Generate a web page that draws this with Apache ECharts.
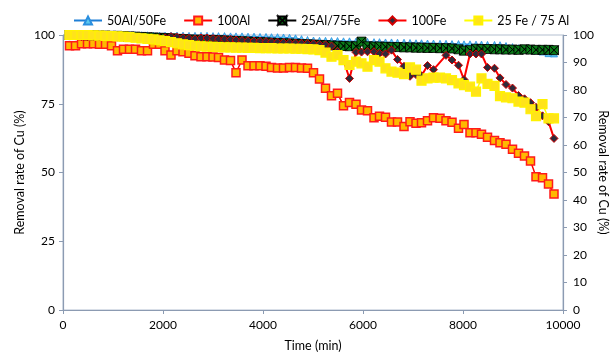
<!DOCTYPE html>
<html>
<head>
<meta charset="utf-8">
<title>Removal rate of Cu</title>
<script src="https://cdn.jsdelivr.net/npm/echarts@6/dist/echarts.min.js"></script>
<style>
  html, body { margin: 0; padding: 0; background: #fff; }
  #chart { width: 611px; height: 356px; }
</style>
</head>
<body>
<div id="chart"></div>
<script>
// time (min) of each sample
var times = [130, 250, 370, 490, 610, 730, 850, 970, 1090, 1210, 1330, 1450, 1570, 1690, 1810, 1930,
  2040, 2160, 2280, 2400, 2520, 2640, 2760, 2880, 3000, 3110, 3230, 3350, 3460, 3580, 3700, 3820,
  3940, 4060, 4170, 4290, 4410, 4530, 4650, 4770, 4890, 5010, 5130, 5250, 5370, 5490, 5610, 5730,
  5860, 5970, 6090, 6220, 6330, 6450, 6570, 6690, 6820, 6940, 7060, 7170, 7290, 7410, 7540, 7660,
  7780, 7910, 8020, 8140, 8260, 8370, 8490, 8630, 8740, 8860, 8990, 9110, 9230, 9350, 9460, 9590,
  9710, 9820];

var seriesNames = ['50Al/50Fe', '100Al', '25Al/75Fe', '100Fe', '25 Fe / 75 Al'];

var al50fe50 = [100, 100, 100, 100, 100, 100, 100, 100, 100, 99.9, 99.9, 99.9, 99.9, 99.9, 99.8, 99.8,
  99.8, 99.8, 99.8, 99.8, 99.7, 99.7, 99.7, 99.7, 99.6, 99.6, 99.6, 99.5, 99.5, 99.5, 99.4, 99.4,
  99.3, 99.3, 99.2, 99.2, 99.1, 99.0, 98.8, 98.5, 98.2, 98.0, 97.9, 97.9, 97.8, 97.8, 97.7, 97.7,
  97.6, 97.5, 97.5, 97.4, 97.4, 97.3, 97.3, 97.2, 97.2, 97.1, 97.0, 97.0, 96.9, 96.9, 96.8, 96.8,
  96.7, 96.7, 96.6, 96.6, 96.5, 96.5, 96.4, 96.4, 96.3, 96.0, 95.6, 95.2, 95.0, 94.7, 94.4, 94.0,
  93.4, 93.3];

var al100 = [96.1, 96.1, 96.8, 96.8, 96.8, 96.6, 96.6, 96.1, 94.3, 94.8, 94.8, 94.8, 94.3, 94.3, 96.6, 96.6,
  94.3, 92.7, 94.3, 93.9, 93.4, 92.5, 92.1, 92.1, 92.0, 91.8, 90.9, 90.7, 86.3, 90.9, 88.8, 88.8,
  88.8, 88.6, 88.2, 88.0, 88.0, 88.2, 88.2, 88.0, 87.9, 86.3, 84.0, 80.6, 77.9, 78.8, 74.3, 75.5,
  74.8, 72.7, 72.5, 69.9, 70.5, 70.1, 68.4, 68.4, 66.7, 68.5, 67.9, 68.1, 68.8, 69.9, 69.7, 68.8,
  68.3, 66.1, 67.5, 64.5, 64.5, 63.9, 62.8, 61.6, 60.8, 60.3, 58.5, 57.0, 56.0, 54.2, 48.5, 48.1,
  45.8, 42.2];

var al25fe75 = [100, 100, 100, 99.9, 99.9, 99.8, 99.8, 99.7, 99.7, 99.6, 99.5, 99.4, 99.3, 99.2, 99.1, 99.0,
  98.9, 98.8, 98.6, 98.5, 98.4, 98.3, 98.3, 98.2, 98.2, 98.1, 98.0, 97.9, 97.8, 97.7, 97.6, 97.5,
  97.4, 97.3, 97.2, 97.1, 97.0, 96.9, 96.8, 96.7, 96.6, 96.5, 96.4, 96.3, 96.2, 96.1, 96.0, 95.9,
  95.9, 97.6, 95.9, 95.8, 95.8, 95.7, 95.6, 95.6, 95.5, 95.5, 95.4, 95.4, 95.3, 95.3, 95.2, 95.2,
  95.1, 94.8, 94.3, 94.5, 95.0, 94.9, 94.9, 94.8, 94.8, 94.7, 94.7, 94.6, 94.8, 94.7, 94.6, 94.6,
  94.6, 94.5];

var fe100 = [99.6, 99.6, 99.5, 99.5, 99.4, 99.4, 99.3, 99.3, 99.2, 99.1, 99.1, 99.0, 99.0, 98.9, 98.9, 98.8,
  99.0, 99.4, 99.2, 99.0, 98.8, 98.6, 98.9, 98.9, 98.7, 98.5, 98.5, 98.4, 98.2, 98.0, 97.9, 97.8,
  97.7, 97.6, 97.5, 97.4, 97.3, 97.2, 97.1, 97.0, 96.9, 96.8, 96.6, 96.4, 96.0, 94.0, 90.8, 84.2,
  93.7, 93.8, 93.9, 93.9, 93.3, 93.1, 94.5, 91.1, 88.6, 85.0, 85.6, 85.2, 88.9, 87.4, null, 92.6,
  90.9, 89.0, 83.8, 93.1, 93.1, 93.1, 88.2, 87.9, 84.4, 82.0, 80.7, 78.0, 76.8, 75.4, 73.7, 70.6,
  68.5, 62.4];

var fe25al75 = [100, 100, 100, 100, 99.9, 99.8, 99.7, 99.6, 99.5, 99.4, 99.2, 99.0, 98.8, 98.6, 98.4, 98.1,
  97.8, 97.4, 97.0, 96.6, 96.3, 96.1, 95.9, 95.8, 95.7, 95.6, 95.5, 95.5, 95.4, 95.4, 95.3, 95.3,
  95.2, 95.2, 95.2, 95.1, 95.1, 95.1, 95.0, 95.0, 94.9, 94.8, 94.5, 93.6, 92.1, 92.7, 90.9, 89.1,
  90.3, 89.7, 88.5, 90.9, 90.3, 87.9, 86.7, 86.3, 85.8, 88.2, 87.4, 83.4, 84.2, 84.5, 84.5, 84.2,
  83.6, 82.4, 81.8, 81.2, 79.4, 84.2, 82.2, 81.5, 77.8, 77.3, 77.0, 75.8, 75.4, 73.0, 70.5, 74.9,
  69.7, 69.7];

var leftTicks = [0, 25, 50, 75, 100];
var rightTicks = [0, 10, 20, 30, 40, 50, 60, 70, 80, 90, 100];

function pairs(values) {
  return times.map(function (t, i) { return [t, values[i]]; });
}

var FONT = 'Lato';
var AXIS_COLOR = '#8C9BB2';
var xCross = 'path://M0,0L10,0L5,5Z M10,0L10,10L5,5Z M10,10L0,10L5,5Z M0,10L0,0L5,5Z';

var option = {
  backgroundColor: '#fff',
  animation: false,
  textStyle: { fontFamily: FONT },
  legend: {
    left: 68,
    top: 9,
    itemWidth: 28,
    itemHeight: 10,
    itemGap: 17,
    textStyle: { fontFamily: FONT, fontSize: 12.5, color: '#000' },
    data: seriesNames
  },
  grid: {
    left: 63,
    right: 48,
    top: 35,
    bottom: 46,
    outerBoundsMode: 'none',
    show: true,
    borderColor: '#B3BFD0',
    borderWidth: 1
  },
  xAxis: {
    type: 'value',
    min: 0,
    max: 10000,
    interval: 2000,
    name: 'Time (min)',
    nameLocation: 'middle',
    nameGap: 29,
    nameTextStyle: { fontFamily: FONT, fontSize: 12.5, color: '#000' },
    axisLine: { lineStyle: { color: AXIS_COLOR, width: 1.2 } },
    axisTick: { show: true, inside: false, length: 4, lineStyle: { color: AXIS_COLOR } },
    axisLabel: {
      fontFamily: FONT, fontSize: 12, color: '#000', margin: 9,
      formatter: function (v) { return String(v); }
    },
    splitLine: { show: false }
  },
  yAxis: [{
    type: 'value',
    position: 'left',
    min: leftTicks[0],
    max: leftTicks[leftTicks.length - 1],
    interval: 25,
    name: 'Removal rate of Cu (%)',
    nameLocation: 'middle',
    nameMoveOverlap: false,
    nameGap: 43,
    nameTextStyle: {
      fontFamily: FONT, fontSize: 12.5, color: '#000',
      align: 'center', verticalAlign: 'middle'
    },
    axisLine: { show: true, lineStyle: { color: AXIS_COLOR, width: 1.2 } },
    axisTick: { show: true, length: 4, lineStyle: { color: AXIS_COLOR } },
    axisLabel: { fontFamily: FONT, fontSize: 12, color: '#000', margin: 8 },
    splitLine: { show: false }
  }, {
    type: 'value',
    position: 'right',
    min: rightTicks[0],
    max: rightTicks[rightTicks.length - 1],
    interval: 10,
    name: 'Removal rate of Cu (%)',
    nameLocation: 'middle',
    nameMoveOverlap: false,
    nameRotate: -90,
    nameGap: 40,
    nameTextStyle: {
      fontFamily: FONT, fontSize: 12.5, color: '#000',
      align: 'center', verticalAlign: 'middle'
    },
    axisLine: { show: true, lineStyle: { color: AXIS_COLOR, width: 1.2 } },
    axisTick: { show: true, length: 4, lineStyle: { color: AXIS_COLOR } },
    axisLabel: { fontFamily: FONT, fontSize: 12, color: '#000', margin: 10 },
    splitLine: { show: false }
  }],
  series: [{
    name: seriesNames[0],
    type: 'line',
    data: pairs(al50fe50),
    symbol: 'triangle',
    symbolSize: 7,
    lineStyle: { color: '#1F7FD6', width: 1.5 },
    itemStyle: { color: '#5CC8EE', borderColor: '#2A8FDF', borderWidth: 0.8 }
  }, {
    name: seriesNames[1],
    type: 'line',
    data: pairs(al100),
    symbol: 'rect',
    symbolSize: 8,
    lineStyle: { color: '#FF0000', width: 1.5 },
    itemStyle: { color: '#FFB800', borderColor: '#FF1A1A', borderWidth: 1.5 }
  }, {
    name: seriesNames[2],
    type: 'line',
    data: pairs(al25fe75),
    symbol: xCross,
    symbolSize: 9,
    lineStyle: { color: '#000', width: 1.5 },
    itemStyle: { color: '#0A7A18', borderColor: '#000', borderWidth: 0.8 }
  }, {
    name: seriesNames[3],
    type: 'line',
    data: pairs(fe100),
    connectNulls: true,
    symbol: 'diamond',
    symbolSize: 8,
    lineStyle: { color: '#FF0000', width: 2 },
    itemStyle: { color: '#2E2A3A', borderColor: '#D00000', borderWidth: 1 }
  }, {
    name: seriesNames[4],
    type: 'line',
    data: pairs(fe25al75),
    symbol: 'rect',
    symbolSize: 9,
    lineStyle: { color: '#FFFF00', width: 1.5 },
    itemStyle: { color: '#FFE31A', borderColor: '#FFF200', borderWidth: 1.2 }
  }]
};

var chart = echarts.init(document.getElementById('chart'));
chart.setOption(option);
</script>
</body>
</html>
